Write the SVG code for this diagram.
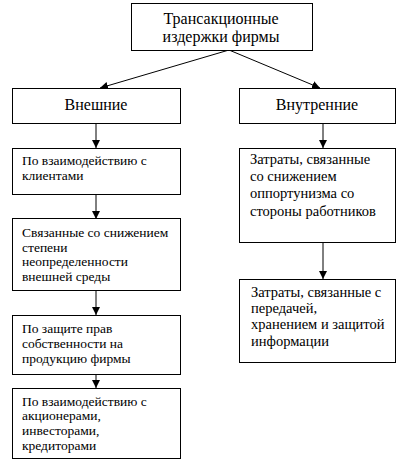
<svg xmlns="http://www.w3.org/2000/svg" width="408" height="462" viewBox="0 0 408 462">
<style>
rect{fill:#fff;stroke:#000;stroke-width:1}
text{font-family:"Liberation Serif","Times New Roman",serif;fill:#000}
.t{font-size:16px}
.s{font-size:13.5px}
.m{font-size:14.5px}
line{stroke:#000;stroke-width:1}
</style>
<defs>
<marker id="a" viewBox="0 0 8 10" refX="8" refY="5" markerWidth="8" markerHeight="10" markerUnits="userSpaceOnUse" orient="auto">
<path d="M0,1 L8,5 L0,9 Z" fill="#000"/>
</marker>
</defs>
<rect width="408" height="462" style="stroke:none"/>
<g id="connectors">
<line x1="229" y1="50" x2="100" y2="88" marker-end="url(#a)"/>
<line x1="229" y1="50" x2="320" y2="88" marker-end="url(#a)"/>
<line x1="96" y1="123" x2="96" y2="148" marker-end="url(#a)"/>
<line x1="96" y1="194" x2="96" y2="219" marker-end="url(#a)"/>
<line x1="96" y1="291" x2="96" y2="315" marker-end="url(#a)"/>
<line x1="96" y1="374" x2="96" y2="388" marker-end="url(#a)"/>
<line x1="323" y1="123" x2="323" y2="148" marker-end="url(#a)"/>
<line x1="323" y1="242" x2="323" y2="279" marker-end="url(#a)"/>
</g>
<g id="root">
<rect x="131.5" y="3.5" width="181" height="47"/>
<text class="t" x="221" y="24" text-anchor="middle">Трансакционные</text>
<text class="t" x="221" y="42" text-anchor="middle">издержки фирмы</text>
</g>
<g id="external">
<rect x="12.5" y="88.5" width="168" height="35"/>
<text class="t" x="96" y="110" text-anchor="middle">Внешние</text>
</g>
<g id="internal">
<rect x="239.5" y="88.5" width="156" height="35"/>
<text class="t" x="317" y="110" text-anchor="middle">Внутренние</text>
</g>
<g id="ext1">
<rect x="12.5" y="148.5" width="168" height="46"/>
<text class="s" x="22" y="165">По взаимодействию с</text>
<text class="s" x="22" y="180">клиентами</text>
</g>
<g id="ext2">
<rect x="12.5" y="218.5" width="168" height="72"/>
<text class="s" x="22" y="237">Связанные со снижением</text>
<text class="s" x="22" y="252">степени</text>
<text class="s" x="22" y="266">неопределенности</text>
<text class="s" x="22" y="281">внешней среды</text>
</g>
<g id="ext3">
<rect x="12.5" y="315.5" width="168" height="59"/>
<text class="s" x="22" y="333">По защите прав</text>
<text class="s" x="22" y="348">собственности на</text>
<text class="s" x="22" y="363">продукцию фирмы</text>
</g>
<g id="ext4">
<rect x="12.5" y="388.5" width="168" height="70"/>
<text class="s" x="22" y="406">По взаимодействию с</text>
<text class="s" x="22" y="420">акционерами,</text>
<text class="s" x="22" y="435">инвесторами,</text>
<text class="s" x="22" y="450">кредиторами</text>
</g>
<g id="int1">
<rect x="239.5" y="148.5" width="156" height="94"/>
<text class="m" x="250" y="164">Затраты, связанные</text>
<text class="m" x="250" y="181">со снижением</text>
<text class="m" x="250" y="198">оппортунизма со</text>
<text class="m" x="250" y="216">стороны работников</text>
</g>
<g id="int2">
<rect x="239.5" y="279.5" width="156" height="83"/>
<text class="m" x="251" y="297">Затраты, связанные с</text>
<text class="m" x="251" y="313">передачей,</text>
<text class="m" x="251" y="329">хранением и защитой</text>
<text class="m" x="251" y="346">информации</text>
</g>
</svg>
